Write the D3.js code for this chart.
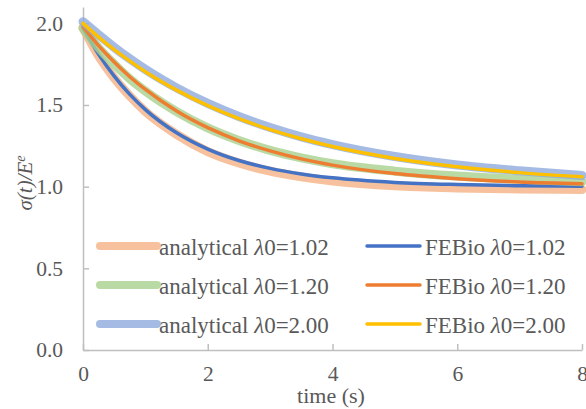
<!DOCTYPE html>
<html>
<head>
<meta charset="utf-8">
<script src="https://cdn.jsdelivr.net/npm/d3@7"></script>
<style>
  body { margin: 0; background: #fff; }
  text { font-family: "Liberation Serif", "Times New Roman", serif; fill: #595959; }
</style>
</head>
<body>
<svg id="chart" width="586" height="409"></svg>
<script>
// time points (s)
const times = [0, 0.25, 0.5, 0.75, 1, 1.5, 2, 2.5, 3, 3.5, 4, 5, 6, 7, 8];

// normalised stress
const analytical102 = [1.975, 1.80, 1.665, 1.555, 1.46, 1.32, 1.215, 1.145, 1.095, 1.06, 1.035, 1.005, 0.992, 0.986, 0.983];
const febio102      = [1.97, 1.81, 1.677, 1.565, 1.472, 1.33, 1.23, 1.16, 1.112, 1.078, 1.054, 1.026, 1.013, 1.006, 1.003];
const analytical120 = [1.97, 1.85, 1.75, 1.66, 1.585, 1.46, 1.36, 1.283, 1.222, 1.176, 1.14, 1.095, 1.065, 1.045, 1.03];
const febio120      = [1.98, 1.864, 1.763, 1.673, 1.595, 1.463, 1.361, 1.281, 1.219, 1.17, 1.132, 1.08, 1.049, 1.029, 1.018];
const analytical200 = [2.01, 1.93, 1.853, 1.783, 1.718, 1.605, 1.51, 1.43, 1.362, 1.305, 1.258, 1.185, 1.133, 1.097, 1.068];
const febio200      = [2.0, 1.916, 1.839, 1.769, 1.704, 1.591, 1.496, 1.416, 1.349, 1.293, 1.246, 1.173, 1.122, 1.086, 1.06];

const xTicks = [0, 2, 4, 6, 8];
const yTicks = [0, 0.5, 1.0, 1.5, 2.0];

// legend order (row-wise, as in the original)
const series = [
    {name: 'analytical \u03bb0=1.02', values: analytical102, color: '#f4b183', width: 9, opacity: 0.8},
    {name: 'FEBio \u03bb0=1.02',      values: febio102,      color: '#4472c4', width: 3.5, opacity: 1},
    {name: 'analytical \u03bb0=1.20', values: analytical120, color: '#a9d18e', width: 9, opacity: 0.8},
    {name: 'FEBio \u03bb0=1.20',      values: febio120,      color: '#ed7d31', width: 3.5, opacity: 1},
    {name: 'analytical \u03bb0=2.00', values: analytical200, color: '#8faadc', width: 9, opacity: 0.8},
    {name: 'FEBio \u03bb0=2.00',      values: febio200,      color: '#ffc000', width: 3.5, opacity: 1}
];

const svg = d3.select('#chart');
const plotLeft = 83, plotRight = 582, plotBottom = 350, plotTop = 7;

const x = d3.scaleLinear().domain([0, 8]).range([plotLeft, plotRight]);
const y = d3.scaleLinear().domain([0, 2.1]).range([plotBottom, plotTop]);

const axisColor = '#bfbfbf';

// x axis
const xAxis = svg.append('g')
    .attr('transform', `translate(0,${plotBottom})`)
    .call(d3.axisBottom(x).tickValues(xTicks).tickSizeInner(-6).tickSizeOuter(0).tickPadding(16).tickFormat(d3.format('d')));
xAxis.select('.domain').attr('stroke', axisColor).attr('stroke-width', 1.5);
xAxis.selectAll('.tick line').attr('stroke', axisColor).attr('stroke-width', 1.5);
xAxis.selectAll('.tick text').attr('font-size', 21.5).attr('fill', '#595959');

// y axis
const yAxis = svg.append('g')
    .attr('transform', `translate(${plotLeft},0)`)
    .call(d3.axisLeft(y).tickValues(yTicks).tickSizeInner(-6).tickSizeOuter(0).tickPadding(20).tickFormat(d3.format('.1f')));
yAxis.select('.domain').attr('stroke', axisColor).attr('stroke-width', 1.5);
yAxis.selectAll('.tick line').attr('stroke', axisColor).attr('stroke-width', 1.5);
yAxis.selectAll('.tick text').attr('font-size', 21.5).attr('fill', '#595959');

// curves
const line = d3.line()
    .x((d, i) => x(times[i]))
    .y(d => y(d))
    .curve(d3.curveMonotoneX);

svg.append('g')
    .selectAll('path')
    .data(series)
    .join('path')
    .attr('d', d => line(d.values))
    .attr('fill', 'none')
    .attr('stroke', d => d.color)
    .attr('stroke-width', d => d.width)
    .attr('stroke-opacity', d => d.opacity)
    .attr('stroke-linecap', 'round')
    .attr('stroke-linejoin', 'round');

// legend, two columns
const legendCols = [100, 367];
const legendRows = [246, 285, 324];
const lg = svg.append('g')
    .selectAll('g')
    .data(series)
    .join('g')
    .attr('transform', (d, i) => `translate(${legendCols[i % 2]},${legendRows[Math.floor(i / 2)]})`);

lg.append('line')
    .attr('x1', 0)
    .attr('x2', (d, i) => i % 2 === 0 ? 57 : 53)
    .attr('stroke', d => d.color)
    .attr('stroke-width', d => d.width === 9 ? 8 : 3.5)
    .attr('stroke-opacity', d => d.opacity)
    .attr('stroke-linecap', 'round');

lg.append('text')
    .attr('x', (d, i) => i % 2 === 0 ? 59 : 58)
    .attr('y', 8.5)
    .attr('font-size', 23)
    .each(function(d) {
        const parts = d.name.split('\u03bb');
        const t = d3.select(this);
        t.append('tspan').text(parts[0]);
        t.append('tspan').attr('font-style', 'italic').text('\u03bb');
        t.append('tspan').text(parts[1]);
    });

// axis titles
svg.append('text')
    .attr('x', 331)
    .attr('y', 403)
    .attr('text-anchor', 'middle')
    .attr('font-size', 22)
    .text('time (s)');

const yt = svg.append('text')
    .attr('transform', 'translate(32,183) rotate(-90)')
    .attr('text-anchor', 'middle')
    .attr('font-size', 21)
    .attr('font-style', 'italic');
yt.append('tspan').text('\u03c3(t)/E');
yt.append('tspan').attr('baseline-shift', 'super').attr('font-size', 14).text('e');
</script>
</body>
</html>
